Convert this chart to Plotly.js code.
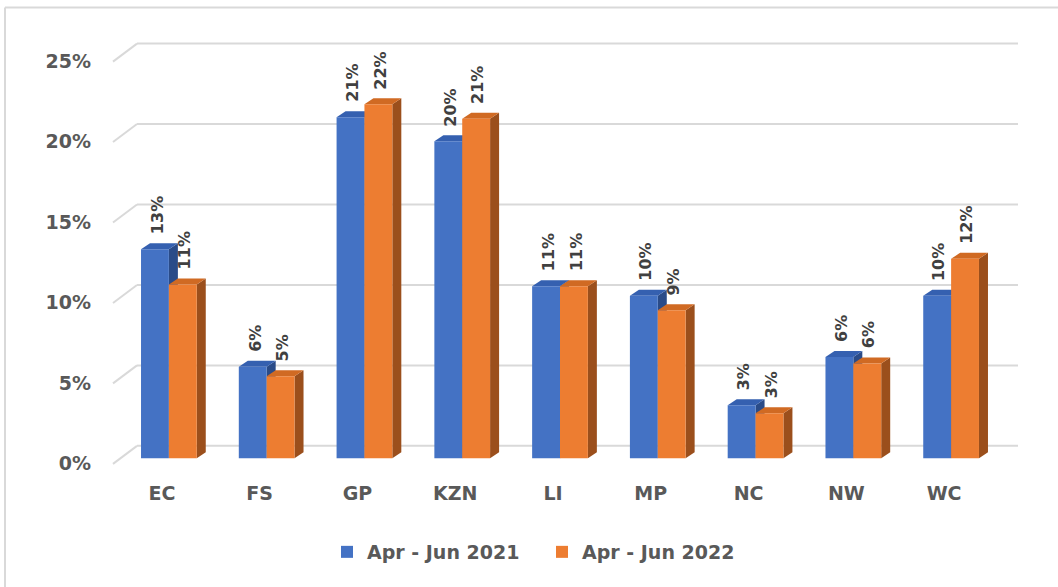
<!DOCTYPE html>
<html>
<head>
<meta charset="utf-8">
<script src="https://cdn.plot.ly/plotly-3.0.1.min.js"></script>
<style>html,body{margin:0;padding:0;background:#fff;}#chart{width:1058px;height:587px;}</style>
</head>
<body>
<div id="chart"></div>
<script>
// ---- data ----
const categories = ['EC', 'FS', 'GP', 'KZN', 'LI', 'MP', 'NC', 'NW', 'WC'];
const series2021 = [13.0, 5.7, 21.2, 19.7, 10.7, 10.1, 3.3, 6.3, 10.1];
const series2022 = [10.8, 5.1, 22.0, 21.1, 10.7, 9.2, 2.8, 5.9, 12.4];
const seriesNames = ['Apr - Jun 2021', 'Apr - Jun 2022'];
const yTickVals = [0, 5, 10, 15, 20, 25];
const yTickText = ['0%', '5%', '10%', '15%', '20%', '25%'];

// ---- layout geometry (pixels) ----
const W = 1058, H = 587;
const M = {l: 120, r: 58, t: 40, b: 119};
const plotW = W - M.l - M.r, plotH = H - M.t - M.b;
const xRange = [-0.5, categories.length - 0.5];
const yRange = [-0.6, 26];
const pxX = plotW / (xRange[1] - xRange[0]);
const pxY = plotH / (yRange[1] - yRange[0]);
const DEPTH_X = 9, DEPTH_Y = 6;       // bar depth in px
const DX = DEPTH_X / pxX, DY = DEPTH_Y / pxY;
const BW = 0.285;                      // bar width (category units)
const WALL_X0 = 137, WALL_X1 = 1018;   // back wall gridline extent (px)
const WALL_UP = 12.5;                  // back wall offset above bar plane (px)
const STUB_DX = 24, STUB_DY = 18;

const FONT = 'DejaVu Sans';
const AXIS_COLOR = '#595959';
const colors = {
  front: ['#4472C4', '#ED7D31'],
  top: ['#3560B0', '#D06A23'],
  side: ['#2A4B88', '#9B4F1C']
};
const offsets = [-BW, 0];
const allSeries = [series2021, series2022];
const xIdx = categories.map((c, i) => i);

const traces = allSeries.map((vals, s) => ({
  type: 'bar',
  name: seriesNames[s],
  x: xIdx,
  y: vals,
  width: BW,
  offset: offsets[s],
  marker: {color: colors.front[s], line: {width: 0}},
  hoverinfo: 'skip'
}));

const shapes = [];
// back wall gridlines + diagonal stubs
const px2paperX = p => (p - M.l) / plotW;
yTickVals.forEach(t => {
  shapes.push({
    type: 'line', layer: 'below', xref: 'paper', yref: 'y',
    x0: px2paperX(WALL_X0), x1: px2paperX(WALL_X1),
    ysizemode: 'pixel', yanchor: t, y0: WALL_UP, y1: WALL_UP,
    line: {color: '#d9d9d9', width: 2}
  });
  shapes.push({
    type: 'line', layer: 'below', xref: 'paper', yref: 'y',
    xsizemode: 'pixel', xanchor: px2paperX(WALL_X0), x0: -STUB_DX, x1: 0,
    ysizemode: 'pixel', yanchor: t, y0: WALL_UP - STUB_DY, y1: WALL_UP,
    line: {color: '#d9d9d9', width: 2}
  });
});
// 3D faces of the bars (top and right side), blue first then orange
allSeries.forEach((vals, s) => {
  vals.forEach((v, i) => {
    const xl = i + offsets[s], xr = xl + BW;
    shapes.push({
      type: 'path', layer: 'below', xref: 'x', yref: 'y',
      path: `M${xr},0 L${xr + DX},${DY} L${xr + DX},${v + DY} L${xr},${v} Z`,
      fillcolor: colors.side[s], line: {width: 0}
    });
    shapes.push({
      type: 'path', layer: 'below', xref: 'x', yref: 'y',
      path: `M${xl},${v} L${xl + DX},${v + DY} L${xr + DX},${v + DY} L${xr},${v} Z`,
      fillcolor: colors.top[s], line: {width: 0}
    });
  });
});
// chart border (top and left edges)
const py2paperY = p => (H - M.b - p) / plotH;
shapes.push({type: 'line', layer: 'below', xref: 'paper', yref: 'paper',
  x0: px2paperX(5), x1: px2paperX(1060), y0: py2paperY(7.5), y1: py2paperY(7.5),
  line: {color: '#d9d9d9', width: 2}});
shapes.push({type: 'line', layer: 'below', xref: 'paper', yref: 'paper',
  x0: px2paperX(5), x1: px2paperX(5), y0: py2paperY(7.5), y1: py2paperY(590),
  line: {color: '#d9d9d9', width: 2}});

// data labels
const annotations = [];
allSeries.forEach((vals, s) => {
  vals.forEach((v, i) => {
    annotations.push({
      x: i + offsets[s] + BW / 2, y: v, xref: 'x', yref: 'y',
      text: Math.round(v) + '%', showarrow: false, textangle: -90,
      xanchor: 'center', yanchor: 'bottom', xshift: 2, yshift: 13,
      font: {family: FONT, size: 16, color: '#404040', weight: 'bold'}
    });
  });
});

const layout = {
  width: W, height: H,
  margin: {l: M.l, r: M.r, t: M.t, b: M.b, autoexpand: false},
  paper_bgcolor: '#ffffff', plot_bgcolor: 'rgba(0,0,0,0)',
  barmode: 'overlay',
  showlegend: true,
  legend: {
    orientation: 'h', x: px2paperX(542), xanchor: 'center',
    y: py2paperY(552), yanchor: 'middle',
    font: {family: FONT, size: 19, color: AXIS_COLOR, weight: 'bold'},
    entrywidth: 170, itemwidth: 30, traceorder: 'normal'
  },
  xaxis: {
    range: xRange, tickmode: 'array', tickvals: xIdx, ticktext: categories,
    showgrid: false, zeroline: false, showline: false, ticks: '',
    ticklabelshift: -7, ticklabelstandoff: 12,
    tickfont: {family: FONT, size: 19, color: AXIS_COLOR, weight: 'bold'},
    fixedrange: true
  },
  yaxis: {
    range: yRange, tickmode: 'array', tickvals: yTickVals, ticktext: yTickText,
    showgrid: false, zeroline: false, showline: false, ticks: '',
    ticklabelshift: 5, ticklabelstandoff: 28,
    tickfont: {family: FONT, size: 19, color: AXIS_COLOR, weight: 'bold'},
    fixedrange: true
  },
  shapes: shapes,
  annotations: annotations,
  hovermode: false
};

Plotly.newPlot('chart', traces, layout, {displayModeBar: false, staticPlot: true});
</script>
</body>
</html>
